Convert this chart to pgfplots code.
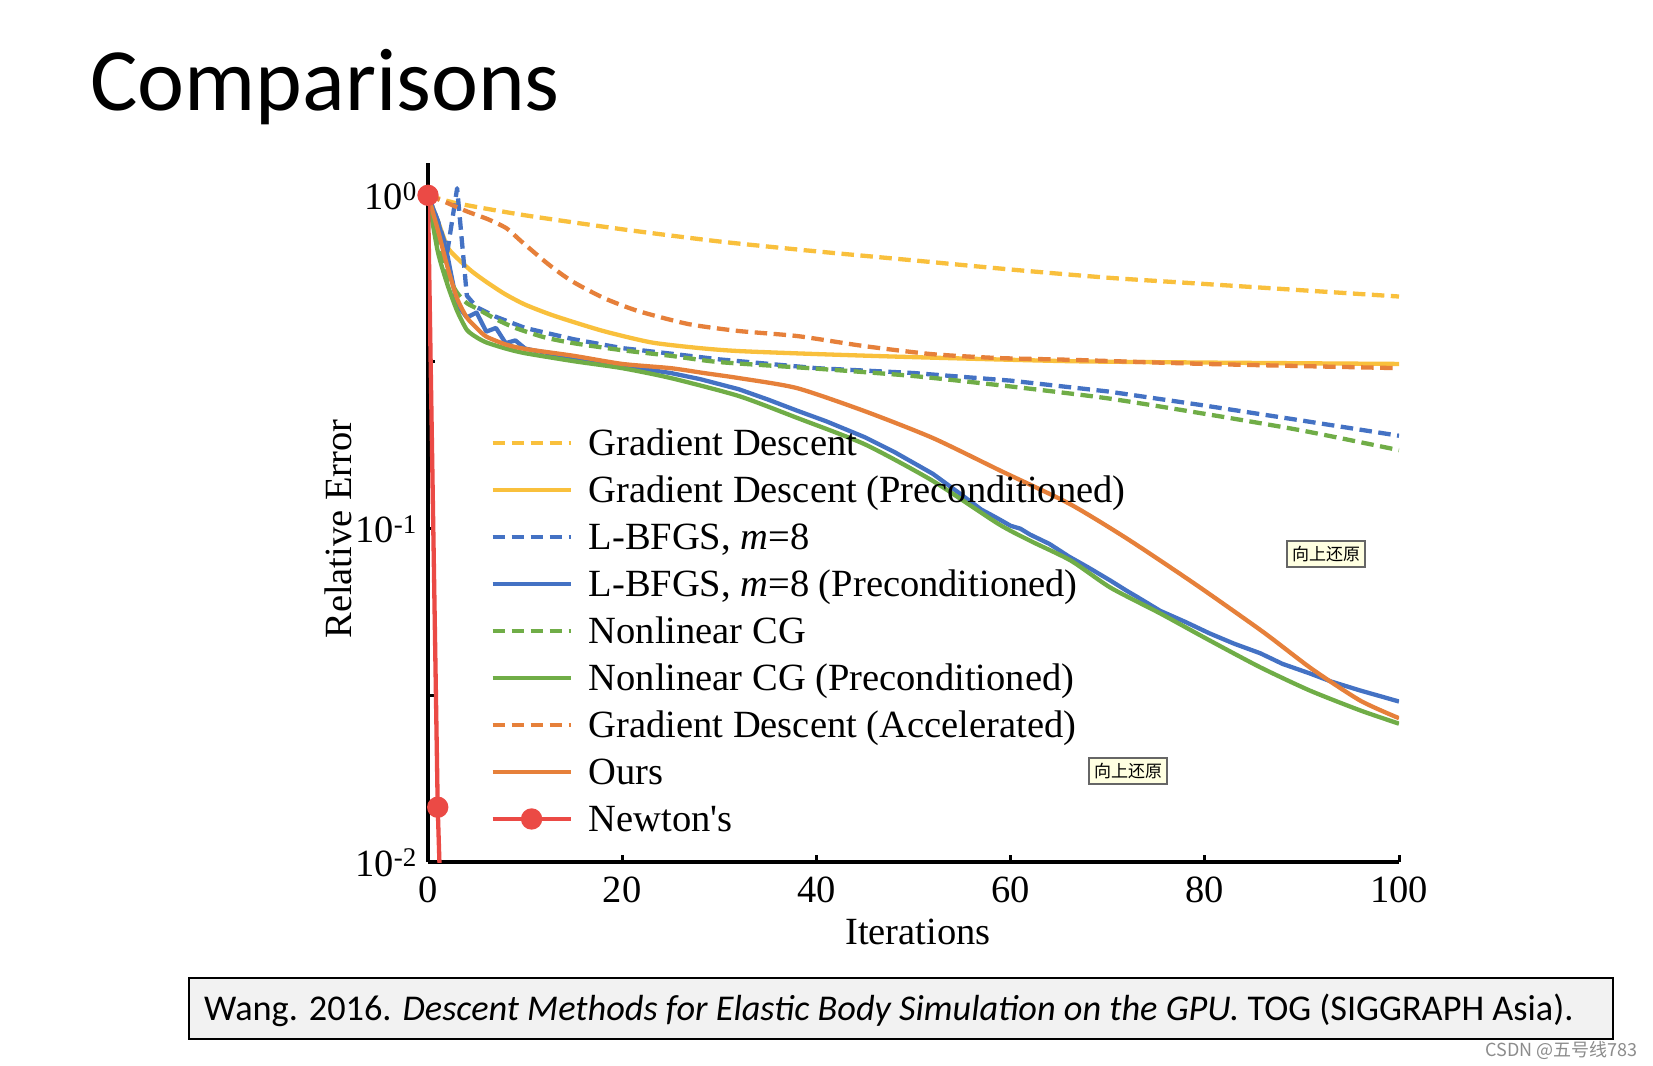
\documentclass[border=0pt]{standalone}
\usepackage{fontspec}
\setmainfont{Liberation Serif}
\newfontfamily\rawserif{Liberation Serif}[Ligatures=TeXOff]
\newfontfamily\calibri{Carlito}
\newfontfamily\cjk{Noto Sans CJK SC}
\usepackage{pgfplots}
\pgfplotsset{compat=1.18}
\definecolor{cgold}{HTML}{F9C03C}
\definecolor{cblue}{HTML}{4472C4}
\definecolor{cgreen}{HTML}{70AD47}
\definecolor{corange}{HTML}{E6803A}
\definecolor{cred}{HTML}{EB4A45}
\definecolor{cboxgray}{HTML}{F2F2F2}
\definecolor{ctip}{HTML}{FFFFE1}
\newcommand\axfont{\fontsize{38.5}{46}\selectfont}
\begin{document}
\begin{tikzpicture}[x=1pt,y=1pt]
\fill[white] (0,0) rectangle (1653,1065);
\useasboundingbox (0,0) rectangle (1653,1065);
\node[anchor=base west, inner sep=0pt, font=\calibri\fontsize{89}{100}\selectfont] at (90,954) {Comparisons};
\begin{axis}[
  at={(428pt,203pt)}, anchor=south west,
  scale only axis, width=971pt, height=699pt,
  xmin=0, xmax=100, ymin=0.01, ymax=1.25,
  ymode=log,
  axis x line*=bottom, axis y line*=left,
  axis line style={line width=4pt, black, -},
  xtick={0,20,40,60,80,100},
  xticklabels={0,20,40,60,80,100},
  ytick={0.01,0.0316228,0.1,0.316228,1},
  yticklabels={10\textsuperscript{-2},,10\textsuperscript{-1},,10\textsuperscript{0}},
  yminorticks=false,
  tick align=inside, major tick length=7pt,
  every tick/.style={black, line width=3pt},
  tick label style={font=\axfont, inner sep=0pt},
  xticklabel style={anchor=north, yshift=-15pt},
  yticklabel style={anchor=base east, xshift=-11pt, yshift=-14pt},
  xlabel={Iterations}, ylabel={Relative Error},
  xlabel style={font=\axfont, inner sep=0pt, at={(axis description cs:0.5046,0)}, anchor=north, yshift=-57pt},
  ylabel style={font=\axfont, inner sep=0pt, at={(axis description cs:-0.0927,0.4763)}, anchor=center},
  legend style={font=\axfont, draw=none, fill=none, inner sep=0pt, outer sep=0pt,
    at={(axis description cs:0.0643,0.6238)}, anchor=north west,
    row sep=13pt, column sep=16pt,
    nodes={inner sep=0pt, text height=30pt, text depth=4pt}},
  legend cell align=left,
  legend image code/.code={\draw[mark repeat=2,mark phase=2,#1] plot coordinates {(0pt,0pt) (39pt,0pt) (78pt,0pt)};},
  every axis plot/.append style={line width=4.3pt, line join=round},
]
% Gradient Descent
\addplot[cgold, dash pattern=on 12.5pt off 6.5pt, smooth, tension=0.4] coordinates {
(0,1.0) (3,0.946) (10,0.871) (20,0.791) (30,0.727) (40,0.679) (50,0.638) (60,0.599) (70,0.566) (80,0.542) (90,0.519) (100,0.497)};
\addlegendentry{Gradient Descent}
% Gradient Descent (Preconditioned)
\addplot[cgold, smooth, tension=0.4] coordinates {
(0,1.0) (1,0.84) (2,0.70) (3,0.648) (4.5,0.592) (6,0.55) (7.9,0.506) (10,0.47) (13,0.435) (18,0.392) (23,0.362) (28,0.348) (32,0.341) (40,0.334) (50,0.327) (66,0.318) (80,0.315) (100,0.312)};
\addlegendentry{Gradient Descent (Preconditioned)}
% L-BFGS m=8
\addplot[cblue, dash pattern=on 12.5pt off 6.5pt] coordinates {
(0,1.0) (1,0.84) (2,0.68) (3,1.05) (4,0.50) (5,0.462) (7,0.432) (10,0.40) (15,0.37) (20,0.348) (25,0.335) (30,0.322) (40,0.303) (50,0.293) (60,0.278) (70,0.258) (80,0.234) (90,0.211) (100,0.190)};
\addlegendentry{L-BFGS, \textit{m}=8}
% L-BFGS m=8 (Preconditioned)
\addplot[cblue] coordinates {
(0,1.0) (1,0.84) (2,0.66) (3,0.47) (4,0.43) (5,0.445) (6,0.39) (7,0.40) (8,0.36) (9,0.367) (10,0.347) (11,0.342) (12,0.338) (15,0.323) (20,0.308) (25,0.293) (28,0.281) (32,0.262) (35,0.244) (38,0.226) (41,0.210) (45,0.188) (48,0.170) (52,0.146) (55,0.126) (57,0.114) (58,0.110) (59,0.106) (60,0.102) (61,0.100) (62,0.096) (64,0.090) (66,0.0825) (68,0.0765) (70.3,0.0698) (72,0.065) (73,0.0625) (75.4,0.0567) (78,0.0525) (80.5,0.0485) (83,0.0452) (85.7,0.0423) (88,0.0393) (90.8,0.0368) (93,0.0348) (96,0.0327) (100,0.0303)};
\addlegendentry{L-BFGS, \textit{m}=8 (Preconditioned)}
% Nonlinear CG
\addplot[cgreen, dash pattern=on 12.5pt off 6.5pt, smooth, tension=0.4] coordinates {
(0,1.0) (1,0.76) (2,0.58) (3,0.51) (4,0.475) (5,0.458) (7,0.425) (9,0.400) (12,0.375) (15,0.360) (20,0.343) (25,0.330) (30,0.316) (40,0.302) (50,0.287) (60,0.267) (70,0.246) (80,0.221) (90,0.197) (100,0.172)};
\addlegendentry{Nonlinear CG}
% Nonlinear CG (Preconditioned)
\addplot[cgreen, smooth, tension=0.4] coordinates {
(0,1.0) (1,0.68) (2,0.54) (3,0.45) (4,0.395) (5,0.375) (6,0.362) (8,0.347) (10,0.336) (15,0.318) (20,0.303) (25,0.283) (32,0.250) (38,0.215) (45,0.179) (52,0.139) (58.7,0.1035) (62,0.092) (66.2,0.0802) (70.3,0.0665) (75.4,0.0557) (80.5,0.0462) (85.7,0.0384) (90.8,0.0327) (96,0.0285) (100,0.0260)};
\addlegendentry{Nonlinear CG (Preconditioned)}
% Gradient Descent (Accelerated)
\addplot[corange, dash pattern=on 12.5pt off 6.5pt, smooth, tension=0.4] coordinates {
(0,1.0) (1.6,0.959) (4,0.895) (6.2,0.847) (8.1,0.796) (9.6,0.728) (12.4,0.621) (14.8,0.553) (18.1,0.492) (21.6,0.450) (26.8,0.411) (31.9,0.392) (38.1,0.378) (44.9,0.353) (51.8,0.334) (58.7,0.325) (66.2,0.321) (80,0.312) (100,0.303)};
\addlegendentry{Gradient Descent (Accelerated)}
% Ours
\addplot[corange, smooth, tension=0.4] coordinates {
(0,1.0) (1,0.79) (2,0.61) (3,0.49) (4,0.43) (5,0.40) (6,0.377) (8,0.357) (10,0.346) (15,0.330) (20,0.312) (25,0.303) (28.4,0.293) (32,0.283) (38,0.264) (45,0.225) (52,0.187) (59,0.149) (66,0.119) (72,0.0933) (79,0.0682) (86,0.0490) (91,0.0380) (96,0.0305) (100,0.0270)};
\addlegendentry{Ours}
% Newton's
\addplot[cred, mark=*, mark size=8.5pt, mark options={solid}, mark indices={1,2},
  legend image post style={mark indices={2}}] coordinates {
(0,1.0) (1,0.0146) (2,0.0017)};
\addlegendentry{{\rawserif Newton's}}
\end{axis}
\node[draw=black!60, fill=ctip, line width=1.5pt, inner sep=1pt, font=\cjk\fontsize{17}{17}\selectfont, minimum width=78pt, minimum height=26pt] at (1326,511) {向上还原};
\node[draw=black!60, fill=ctip, line width=1.5pt, inner sep=1pt, font=\cjk\fontsize{17}{17}\selectfont, minimum width=78pt, minimum height=26pt] at (1128,294) {向上还原};
\draw[line width=2.7pt, fill=cboxgray] (189,26) rectangle (1613,87);
\node[anchor=base west, inner sep=0pt, font=\calibri\fontsize{36.3}{40}\selectfont] at (204,45) {Wang. 2016. \textit{Descent Methods for Elastic Body Simulation on the GPU.} TOG (SIGGRAPH Asia).};
\node[anchor=base east, inner sep=0pt, text=black!45, font=\cjk\fontsize{18}{18}\selectfont] at (1638,9) {CSDN @五号线783};
\end{tikzpicture}
\end{document}
